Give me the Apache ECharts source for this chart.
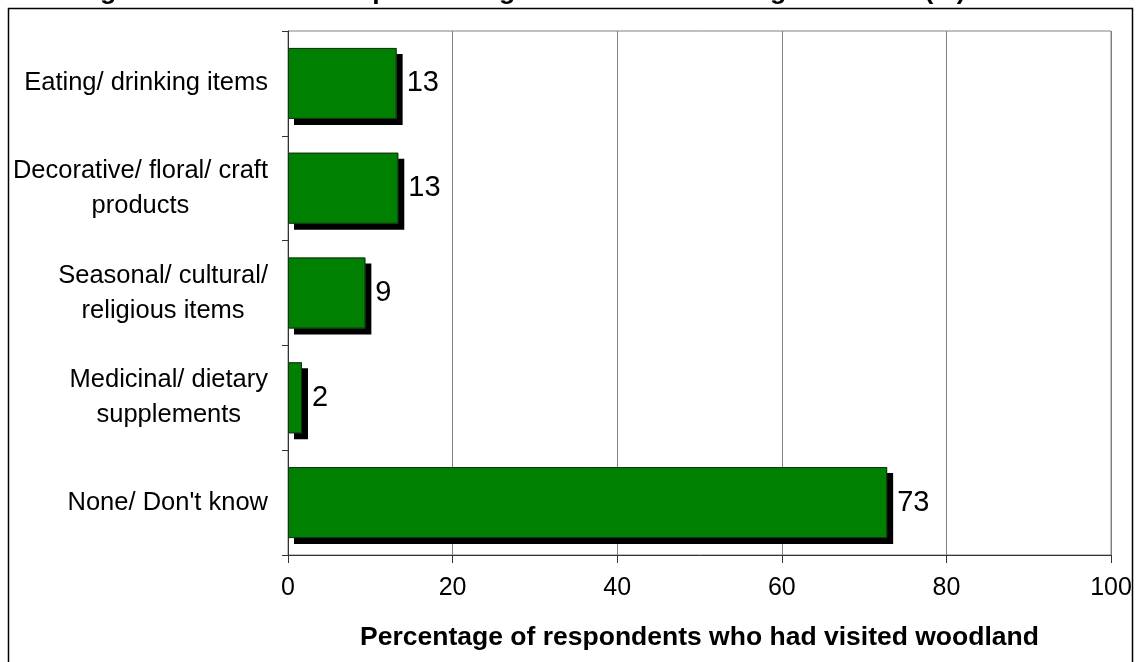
<!DOCTYPE html>
<html>
<head>
<meta charset="utf-8">
<script src="https://cdn.jsdelivr.net/npm/echarts@6/dist/echarts.min.js"></script>
<style>
html,body{margin:0;padding:0;background:#fff;}
#chart{width:1141px;height:662px;}
</style>
</head>
<body>
<div id="chart"></div>
<script>
const categories = [
  'Eating/ drinking items',
  'Decorative/ floral/ craft\nproducts',
  'Seasonal/ cultural/\nreligious items',
  'Medicinal/ dietary\nsupplements',
  "None/ Don't know"
];
const values = [13.2, 13.4, 9.4, 1.7, 72.8];
const valueLabels = ['13', '13', '9', '2', '73'];
const xTicks = [0, 20, 40, 60, 80, 100];
const titleText = 'Figure 12: Products respondents gathered when visiting woodland (%)';
const xAxisName = 'Percentage of respondents who had visited woodland';

const FONT = 'Arial, "Liberation Sans", sans-serif';
const chart = echarts.init(document.getElementById('chart'), null, {renderer: 'canvas'});

chart.setOption({
  animation: false,
  backgroundColor: '#fff',
  graphic: [
    {
      type: 'rect', silent: true, z: 0,
      shape: {x: 8.5, y: 8.5, width: 1124, height: 700},
      style: {fill: 'none', stroke: '#000', lineWidth: 1.5}
    },
    {
      type: 'text', silent: true, z: 10,
      x: 521, y: 5,
      style: {
        text: titleText, fill: '#000',
        font: 'bold 26.5px ' + FONT,
        textAlign: 'center', textVerticalAlign: 'bottom'
      }
    }
  ],
  grid: {
    left: 288, right: 30, top: 31, bottom: 107,
    show: true, borderColor: '#808080', borderWidth: 1, backgroundColor: 'transparent'
  },
  xAxis: {
    type: 'value', min: 0, max: 100, interval: 20,
    name: xAxisName, nameLocation: 'middle', nameGap: 69,
    nameTextStyle: {fontFamily: FONT, fontSize: 26.5, fontWeight: 'bold', color: '#000'},
    axisLine: {show: true, lineStyle: {color: '#333', width: 1}},
    axisTick: {show: true, length: 8, lineStyle: {color: '#333'}},
    axisLabel: {
      margin: 21, fontFamily: FONT, fontSize: 25, color: '#000',
      formatter: v => (xTicks.indexOf(v) >= 0 ? String(v) : '')
    },
    splitLine: {show: true, lineStyle: {color: '#808080', width: 1}}
  },
  yAxis: {
    type: 'category', data: categories, inverse: true,
    axisLine: {show: true, lineStyle: {color: '#333', width: 1}},
    axisTick: {show: true, length: 6, lineStyle: {color: '#333'}},
    axisLabel: {
      margin: 20, color: '#000',
      formatter: v => v.split('\n').map(l => '{c|' + l + '}').join('\n'),
      rich: {c: {align: 'center', fontFamily: FONT, fontSize: 25.5, lineHeight: 35, color: '#000'}}
    },
    splitLine: {show: false}
  },
  series: [
    {
      type: 'bar',
      data: values,
      barWidth: 71,
      z: 2,
      itemStyle: {
        color: '#008000', borderWidth: 0,
        shadowColor: '#000', shadowBlur: 0, shadowOffsetX: 6, shadowOffsetY: 6
      },
      label: {
        show: true, position: 'right', distance: 10,
        fontFamily: FONT, fontSize: 29, color: '#000',
        formatter: p => valueLabels[p.dataIndex]
      }
    },
    {
      type: 'bar',
      data: values,
      barWidth: 71,
      barGap: '-100%',
      z: 3,
      silent: true,
      itemStyle: {color: 'transparent', borderColor: '#1a2e1a', borderWidth: 1},
      label: {show: false}
    }
  ]
});
</script>
</body>
</html>
